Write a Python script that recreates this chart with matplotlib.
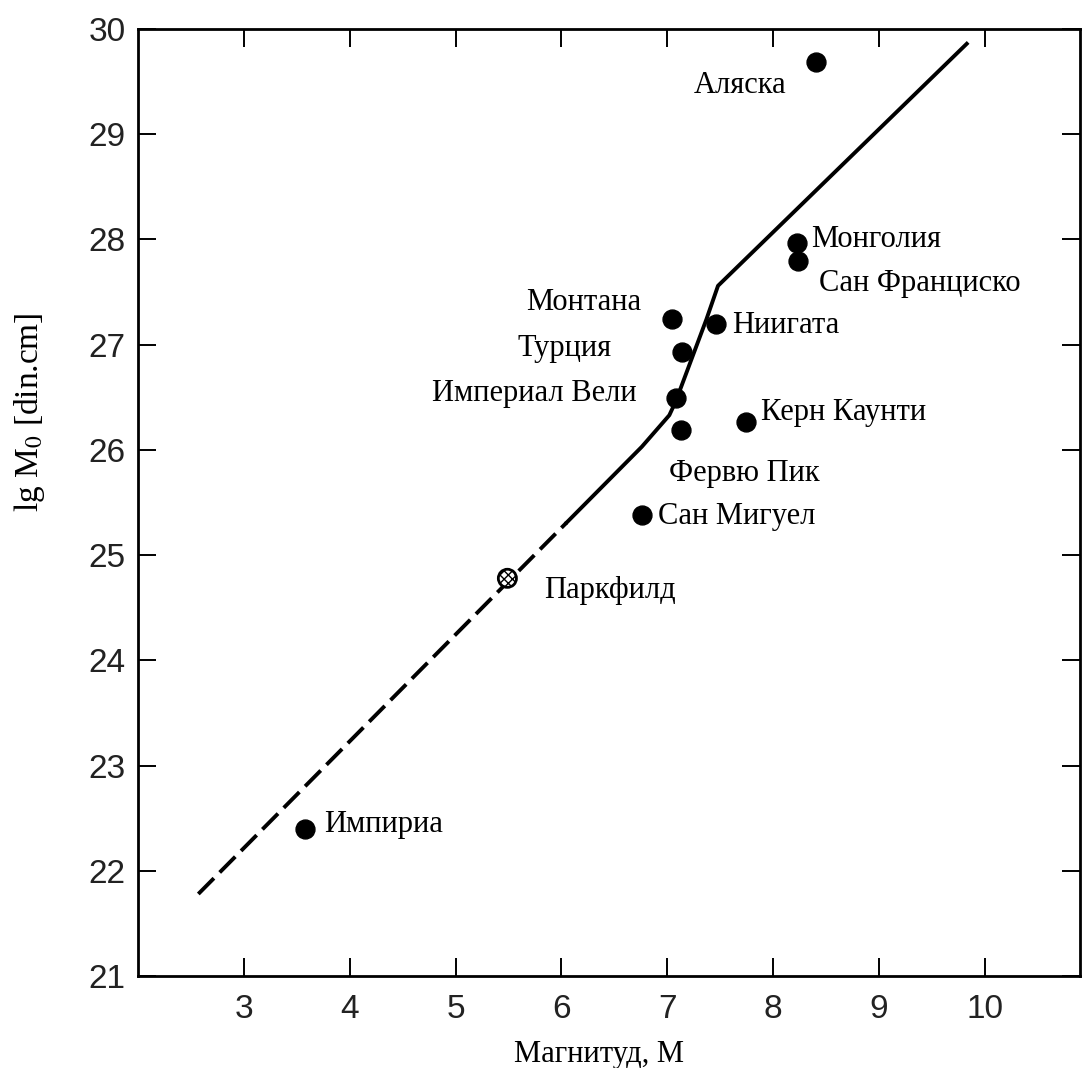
import matplotlib.pyplot as plt

# землетрясения: магнитуда M и lg M0
names = ['Аляска', 'Монголия', 'Сан Франциско', 'Монтана', 'Ниигата', 'Турция',
         'Империал Вели', 'Керн Каунти', 'Фервю Пик', 'Сан Мигуел', 'Паркфилд', 'Импириа']
mag = [8.41, 8.23, 8.24, 7.05, 7.46, 7.14, 7.08, 7.74, 7.13, 6.76, 5.49, 3.58]
lgm0 = [29.69, 27.97, 27.80, 27.24, 27.20, 26.93, 26.49, 26.27, 26.19, 25.38, 24.78, 22.40]

# сдвиг подписи от точки (пт) и выравнивание
label_dx = [-21.6, 10, 15, -22.3, 11.5, -50.4, -28, 10.8, -8.6, 11.5, 26.6, 13.7]
label_dy = [-17.5, 2.2, -16.6, 12.2, -1.4, 2.9, 3.6, 6.5, -31.7, -0.7, -8.6, 2.9]
label_ha = ['right', 'left', 'left', 'right', 'left', 'right',
            'right', 'left', 'left', 'left', 'left', 'left']

# линия зависимости: пунктир и сплошная часть
dash_m = [2.57, 6.05]
dash_lg = [21.78, 25.31]
line_m = [6.05, 6.76, 7.02, 7.08, 7.37, 7.48, 9.83]
line_lg = [25.31, 26.03, 26.33, 26.46, 27.24, 27.56, 29.86]

xticks = [3, 4, 5, 6, 7, 8, 9, 10]
yticks = [21, 22, 23, 24, 25, 26, 27, 28, 29, 30]

plt.rcParams['mathtext.fontset'] = 'stix'

fig = plt.figure(figsize=(10.84, 10.68), dpi=100)
ax = fig.add_axes([0.1273, 0.0861, 0.869, 0.8867])

ax.plot(dash_m, dash_lg, color='black', lw=2.8, linestyle=(0, (5.7, 2.1)),
        solid_capstyle='butt', dash_capstyle='butt')
ax.plot(line_m, line_lg, color='black', lw=2.8, solid_joinstyle='round')

for i in range(len(names)):
    if names[i] == 'Паркфилд':
        ax.scatter(mag[i], lgm0[i], s=170, facecolor='white', edgecolor='black',
                   linewidths=2.0, hatch='xxxx', zorder=3)
    else:
        ax.scatter(mag[i], lgm0[i], s=185, color='black', zorder=3)
    ax.annotate(names[i], (mag[i], lgm0[i]), xytext=(label_dx[i], label_dy[i]),
                textcoords='offset points', ha=label_ha[i], va='center',
                fontsize=22, family='Liberation Serif')

ax.set_xlim(2, 10.9)
ax.set_ylim(21, 30)
ax.set_xticks(xticks)
ax.set_yticks(yticks)
ax.set_xticklabels([str(t) for t in xticks], family=['Liberation Sans Narrow', 'Liberation Sans'],
                   fontsize=24, color='#222222')
ax.set_yticklabels([str(t) for t in yticks], family='Liberation Sans',
                   fontsize=24, color='#222222')
ax.tick_params(direction='in', length=13, width=1.4, top=True, right=True)
ax.tick_params(axis='x', pad=13)
ax.tick_params(axis='y', pad=9)
for s in ax.spines.values():
    s.set_linewidth(2.0)

fig.text(599 / 1084, 1 - 1062 / 1068, 'Магнитуд, М', ha='center', va='baseline',
         fontsize=22, family='Liberation Serif')
fig.text(30 / 1084, 1 - 412 / 1068, 'lg M$_{0}$ [din.cm]', ha='center', va='center',
         rotation=90, fontsize=24, family='Liberation Serif')

fig.savefig('out.png', dpi=100)
